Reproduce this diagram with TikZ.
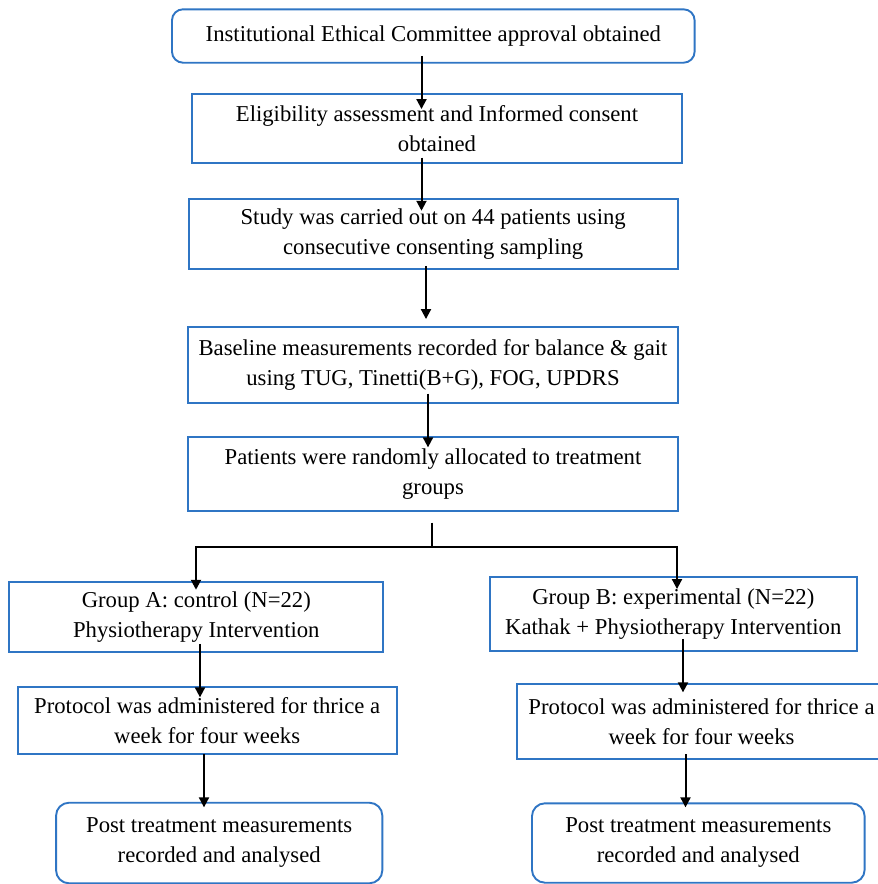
\documentclass[tikz,border=0pt]{standalone}
\usepackage{fontspec}
\setmainfont{Liberation Serif}
\usetikzlibrary{arrows.meta,calc}
\definecolor{boxblue}{RGB}{47,117,196}
\tikzset{
  box/.style={draw=boxblue, line width=1.9pt, inner sep=0pt, align=center,
    font=\fontsize{22.7}{30}\selectfont},
  rbox/.style={box, rounded corners=11pt},
  arr/.style={draw=black, line width=2pt, -{Triangle[length=10pt,width=10pt]}},
  ln/.style={draw=black, line width=2pt}
}
\begin{document}
\begin{tikzpicture}[x=1pt,y=-1pt]
\useasboundingbox (0,0) rectangle (878,884);
\fill[white] (0,0) rectangle (878,884);
\node[rbox, minimum width=522.6pt, minimum height=53.4pt] (b1) at (433.3,36) {Institutional Ethical Committee approval obtained};
\node[box, minimum width=490pt, minimum height=68.4pt] (b2) at (437,128.5) {Eligibility assessment and Informed consent\\obtained};
\node[box, minimum width=489.3pt, minimum height=70pt] (b3) at (433.2,234.3) {Study was carried out on 44 patients using\\consecutive consenting sampling};
\node[box, minimum width=489.7pt, minimum height=76.6pt] (b4) at (433,365) {Baseline measurements recorded for balance \& gait\\using TUG, Tinetti(B+G), FOG, UPDRS};
\node[box, minimum width=490pt, minimum height=74pt] (b5) at (433,473.7) {Patients were randomly allocated to treatment\\groups};
\node[box, minimum width=374pt, minimum height=70.6pt] (gA) at (196.3,617) {Group A: control (N=22)\\Physiotherapy Intervention};
\node[box, minimum width=367.3pt, minimum height=73.4pt] (gB) at (673.3,614) {Group B: experimental (N=22)\\Kathak + Physiotherapy Intervention};
\node[box, minimum width=379pt, minimum height=67.6pt] (pA) at (207.2,720.5) {Protocol was administered for thrice a\\week for four weeks};
\node[box, minimum width=369pt, minimum height=75pt] (pB) at (701.5,721.5) {Protocol was administered for thrice a\\week for four weeks};
\node[rbox, rounded corners=13pt, minimum width=326.3pt, minimum height=80.6pt] (qA) at (219.2,843) {Post treatment measurements\\recorded and analysed};
\node[rbox, rounded corners=13pt, minimum width=332.7pt, minimum height=79.4pt] (qB) at (698.3,843) {Post treatment measurements\\recorded and analysed};
\coordinate (split) at (432,546.5);
\draw[arr] ([xshift=-11.8pt,yshift=7.7pt]b1.south) -- ([xshift=-15.5pt,yshift=-15.7pt]b2.north);
\draw[arr] ([xshift=-15.5pt,yshift=6pt]b2.south) -- ([xshift=-11.7pt,yshift=-12.4pt]b3.north);
\draw[arr] ([xshift=-7.2pt,yshift=4.3pt]b3.south) -- ([xshift=-7pt,yshift=6.7pt]b4.north);
\draw[arr] ([xshift=-5pt,yshift=10.6pt]b4.south) -- ([xshift=-5pt,yshift=-11.6pt]b5.north);
\draw[ln] ([xshift=-1pt,yshift=-11pt]b5.south) -- (split);
\draw[arr] (split) -| ([xshift=-0.3pt,yshift=-9pt]gA.north);
\draw[arr] (split) -| ([xshift=3.7pt,yshift=-12.7pt]gB.north);
\draw[arr] ([xshift=3.7pt,yshift=9.3pt]gA.south) -- ([xshift=-7.2pt,yshift=-11.6pt]pA.north);
\draw[arr] ([xshift=9.7pt,yshift=12.7pt]gB.south) -- ([xshift=-18.5pt,yshift=-9.3pt]pB.north);
\draw[arr] ([xshift=-3.2pt,yshift=1.3pt]pA.south) -- ([xshift=-15.2pt,yshift=-5.6pt]qA.north);
\draw[arr] ([xshift=-16pt,yshift=5.7pt]pB.south) -- ([xshift=-12.8pt,yshift=-5pt]qB.north);
\end{tikzpicture}
\end{document}
